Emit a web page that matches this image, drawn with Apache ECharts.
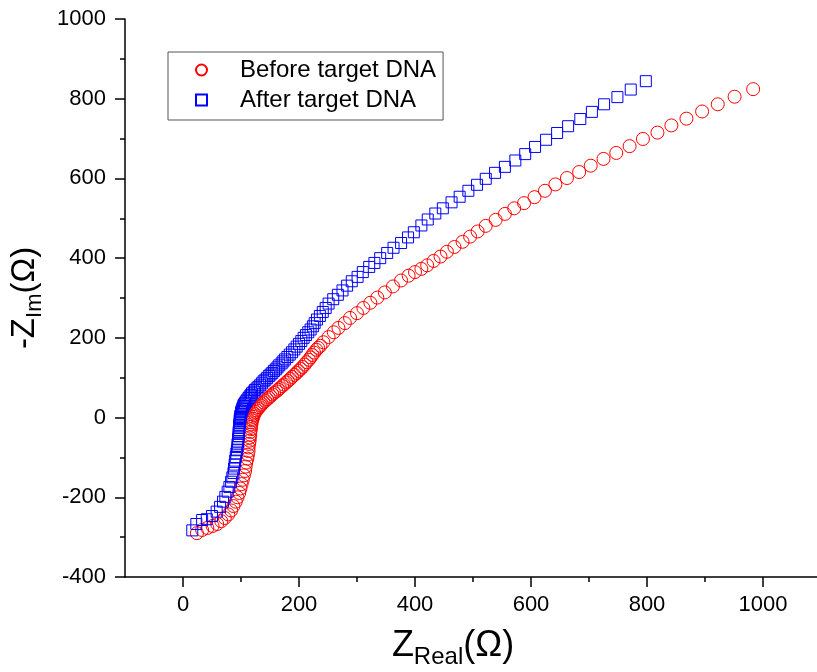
<!DOCTYPE html>
<html>
<head>
<meta charset="utf-8">
<script src="https://cdn.jsdelivr.net/npm/echarts@6/dist/echarts.min.js"></script>
<style>
html,body{margin:0;padding:0;background:#fff;}
#c{width:817px;height:672px;}
</style>
</head>
<body>
<div id="c"></div>
<script>
// Tick values
var xTickLabels = [0, 200, 400, 600, 800, 1000];
var xMinorTicks = [100, 300, 500, 700, 900, 1100];
var yTicks = [-400, -200, 0, 200, 400, 600, 800, 1000];

var seriesNames = ['Before target DNA', 'After target DNA'];

// Before target DNA: [Z_Real, -Z_Im]
var beforeData = [
[24,-290],[33,-282],[42,-277],[51,-272],[59,-267],[66,-260],[72,-252],[78,-243],[83,-233],[87,-222],
[91,-211],[94,-200],[97,-189],[99,-178],[101,-167],[103,-156],[105,-145],[107,-134],[108,-123],[109,-113],
[111,-103],[112,-93],[113,-84],[113,-75],[114,-66],[115,-58],[115,-50],[116,-43],[116,-36],[117,-29],
[117,-23],[118,-17],[118,-12],[119,-7],[120,-3],[121,2],[122,6],[123,10],[125,14],[127,18],
[129,22],[131,26],[134,30],[136,34],[139,38],[142,42],[145,46],[148,50],[151,54],[154,58],
[157,62],[161,66],[164,70],[167,74],[171,79],[174,83],[178,88],[181,92],[185,97],[188,102],
[192,107],[196,112],[199,117],[203,122],[206,127],[210,133],[213,139],[217,145],[220,151],[223,157],
[226,163],[230,170],[233,175],[237,180],[242,189],[251,202],[260,214],[268,225],[279,237],[288,250],
[300,262],[311,275],[323,288],[335,301],[348,314],[362,329],[376,344],[389,356],[400,365],[411,373],
[421,382],[432,393],[444,404],[455,416],[468,428],[482,441],[495,454],[508,467],[522,481],[539,496],
[555,511],[571,525],[588,538],[606,553],[624,569],[642,585],[662,601],[683,616],[703,632],[725,649],
[747,664],[770,681],[793,699],[818,715],[842,733],[868,750],[895,768],[922,786],[951,805],[983,824]
];

// After target DNA: [Z_Real, -Z_Im]
var afterData = [
[16,-283],[23,-267],[33,-257],[41,-255],[50,-247],[58,-236],[64,-224],[69,-211],[73,-199],[77,-186],
[80,-174],[83,-161],[85,-150],[87,-139],[88,-128],[89,-118],[90,-108],[91,-99],[92,-90],[93,-82],
[94,-74],[94,-67],[95,-60],[95,-53],[96,-47],[96,-41],[96,-36],[97,-31],[97,-26],[97,-22],
[97,-18],[98,-14],[98,-10],[98,-7],[98,-4],[99,-1],[99,2],[99,5],[100,9],[100,13],
[101,17],[102,21],[103,25],[104,29],[105,33],[107,37],[109,41],[111,45],[113,49],[115,53],
[117,57],[119,61],[122,65],[124,69],[127,73],[130,77],[133,81],[136,86],[139,91],[142,95],
[145,99],[148,104],[151,108],[154,112],[157,117],[160,121],[163,126],[166,131],[170,136],[173,141],
[176,146],[180,152],[184,158],[188,164],[192,171],[196,178],[200,185],[204,192],[208,200],[212,207],
[216,214],[220,221],[224,229],[227,237],[231,246],[236,255],[241,265],[246,275],[251,286],[259,297],
[267,308],[275,319],[283,331],[291,342],[301,353],[310,365],[321,378],[330,388],[340,400],[352,413],
[363,426],[376,438],[388,452],[398,465],[411,482],[422,497],[435,512],[448,525],[463,540],[477,554],
[492,569],[507,584],[522,599],[538,614],[555,629],[573,645],[590,661],[607,679],[626,697],[645,714],
[664,731],[685,749],[705,767],[726,786],[749,804],[772,823],[798,844]
];

var FONT = 'Liberation Sans, Arial, sans-serif';
var chart = echarts.init(document.getElementById('c'), null, {renderer: 'canvas'});
function plain(v) { return String(v); }

var option = {
  backgroundColor: '#ffffff',
  animation: false,
  grid: {left: 125, top: 19, width: 696, height: 558, containLabel: false, outerBoundsMode: 'none'},
  legend: {
    left: 168, top: 52,
    orient: 'vertical',
    data: [
      {name: seriesNames[0], icon: 'circle'},
      {name: seriesNames[1], icon: 'rect'}
    ],
    itemWidth: 11, itemHeight: 11, itemGap: 6,
    padding: [6, 7, 8, 27],
    borderColor: '#555555', borderWidth: 1,
    textStyle: {fontFamily: FONT, fontSize: 24, color: '#000', padding: [0, 0, 0, 28]}
  },
  xAxis: [{
    type: 'value', min: -100, max: 1100,
    axisLine: {show: true, onZero: false, lineStyle: {color: '#000', width: 1.5}},
    axisTick: {show: true, length: 10, lineStyle: {color: '#000', width: 1.5}, customValues: xTickLabels},
    axisLabel: {fontFamily: FONT, fontSize: 22, color: '#000', margin: 17, customValues: xTickLabels, formatter: plain},
    splitLine: {show: false},
    name: '{m|Z}{s|Real}{m|(Ω)}',
    nameLocation: 'middle', nameGap: 46,
    nameTextStyle: {
      padding: [0, 40, 0, 0],
      rich: {
        m: {fontFamily: FONT, fontSize: 36, color: '#000', lineHeight: 46},
        s: {fontFamily: FONT, fontSize: 24, color: '#000', lineHeight: 26, verticalAlign: 'bottom'}
      }
    }
  }, {
    type: 'value', min: -100, max: 1100, position: 'bottom',
    axisLine: {show: false, onZero: false},
    axisTick: {show: true, length: 5, lineStyle: {color: '#000', width: 1.5}, customValues: xMinorTicks},
    axisLabel: {show: false},
    splitLine: {show: false}
  }],
  yAxis: {
    type: 'value', min: yTicks[0], max: yTicks[yTicks.length - 1], interval: 200,
    axisLine: {show: true, onZero: false, lineStyle: {color: '#000', width: 1.5}},
    axisTick: {show: true, length: 10, lineStyle: {color: '#000', width: 1.5}},
    minorTick: {show: true, splitNumber: 2, length: 5, lineStyle: {color: '#000', width: 1.5}},
    axisLabel: {fontFamily: FONT, fontSize: 22, color: '#000', margin: 19, formatter: plain},
    splitLine: {show: false},
    name: '{m|-Z}{s|Im}{m|(Ω)}',
    nameLocation: 'middle', nameGap: 74,
    nameTextStyle: {
      rich: {
        m: {fontFamily: FONT, fontSize: 33, color: '#000', lineHeight: 42},
        s: {fontFamily: FONT, fontSize: 22, color: '#000', lineHeight: 24, verticalAlign: 'bottom'}
      }
    }
  },
  series: [{
    name: seriesNames[0], type: 'scatter', data: beforeData,
    symbol: 'circle', symbolSize: 13,
    itemStyle: {color: 'rgba(255,255,255,0)', borderColor: '#ff0000', borderWidth: 1, opacity: 1},
    emphasis: {disabled: true}
  }, {
    name: seriesNames[1], type: 'scatter', data: afterData,
    symbol: 'rect', symbolSize: 11,
    itemStyle: {color: 'rgba(255,255,255,0)', borderColor: '#0000ff', borderWidth: 1, opacity: 1},
    emphasis: {disabled: true}
  }]
};
chart.setOption(option);
</script>
</body>
</html>
